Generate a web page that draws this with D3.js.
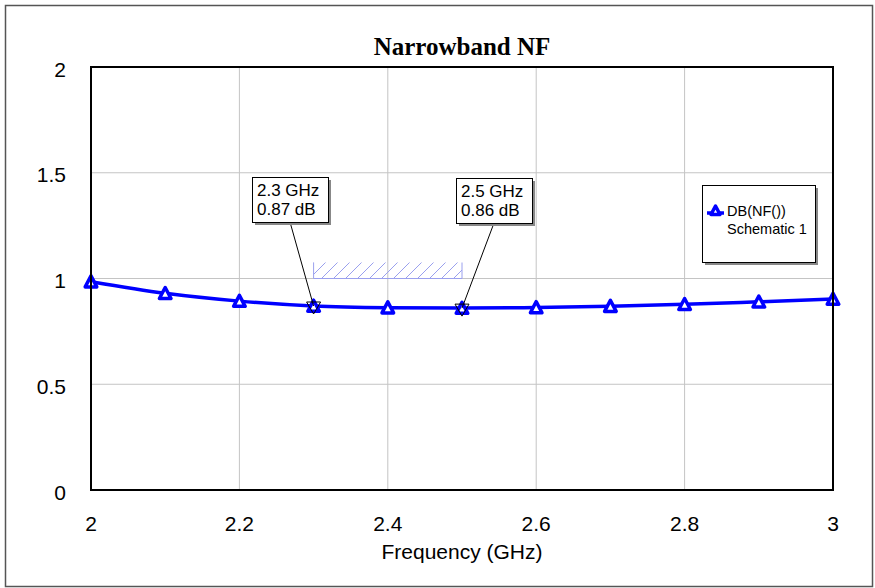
<!DOCTYPE html>
<html lang="en">
<head>
<meta charset="UTF-8">
<title>Narrowband NF</title>
<style>
    body, html { margin: 0; padding: 0; background: #fff; overflow: hidden; }
    svg { display: block; }
    .tick-label { font: 21px Arial, "Liberation Sans", sans-serif; fill: #000; }
    .grid { stroke: #c4c4c4; stroke-width: 1; }
    .box-text { font: 17px Arial, "Liberation Sans", sans-serif; fill: #000; }
    .legend-text { font: 14.5px Arial, "Liberation Sans", sans-serif; fill: #000; }
</style>
</head>
<body>
<script src="https://d3js.org/d3.v7.min.js"></script>
<script>
// data
const freqs = [2.0, 2.1, 2.2, 2.3, 2.4, 2.5, 2.6, 2.7, 2.8, 2.9, 3.0];
const nfDb = [0.985, 0.93, 0.893, 0.87, 0.862, 0.86, 0.863, 0.869, 0.878, 0.89, 0.903];
const xTicks = [2, 2.2, 2.4, 2.6, 2.8, 3];
const yTicks = [0, 0.5, 1, 1.5, 2];
const markers = [
    { f: 2.3, v: 0.87, label: ["2.3 GHz", "0.87 dB"], box: [252, 177] },
    { f: 2.5, v: 0.86, label: ["2.5 GHz", "0.86 dB"], box: [456, 178] }
];
const specLine = { f0: 2.3, f1: 2.5, v: 1.0 };

const width = 875, height = 588;
const plot = { left: 91, right: 833, top: 67, bottom: 490 };

const svg = d3.select("body").append("svg")
    .attr("width", width)
    .attr("height", height);

const x = d3.scaleLinear().domain([2, 3]).range([plot.left, plot.right]);
const y = d3.scaleLinear().domain([0, 2]).range([plot.bottom, plot.top]);

// outer frame
svg.append("rect")
    .attr("x", 5.5).attr("y", 5.5)
    .attr("width", 867).attr("height", 581)
    .attr("fill", "none")
    .attr("stroke", "#555")
    .attr("stroke-width", 1.5);

// title
svg.append("text")
    .attr("x", (plot.left + plot.right) / 2)
    .attr("y", 55)
    .attr("text-anchor", "middle")
    .style("font", "bold 25px 'Liberation Serif', 'Times New Roman', serif")
    .text("Narrowband NF");

// grid
svg.append("g").selectAll("line")
    .data(xTicks.filter(d => d > 2 && d < 3))
    .enter().append("line")
    .attr("class", "grid")
    .attr("x1", d => x(d)).attr("x2", d => x(d))
    .attr("y1", plot.top).attr("y2", plot.bottom);

svg.append("g").selectAll("line")
    .data(yTicks.filter(d => d > 0 && d < 2))
    .enter().append("line")
    .attr("class", "grid")
    .attr("x1", plot.left).attr("x2", plot.right)
    .attr("y1", d => y(d)).attr("y2", d => y(d));

// tick labels
svg.append("g").selectAll("text")
    .data(xTicks)
    .enter().append("text")
    .attr("class", "tick-label")
    .attr("x", d => x(d))
    .attr("y", 531)
    .attr("text-anchor", "middle")
    .text(d => d3.format("~g")(d));

svg.append("g").selectAll("text")
    .data(yTicks)
    .enter().append("text")
    .attr("class", "tick-label")
    .attr("x", 66)
    .attr("y", d => y(d) + 9.5)
    .attr("text-anchor", "end")
    .text(d => d3.format("~g")(d));

svg.append("text")
    .attr("class", "tick-label")
    .attr("x", (plot.left + plot.right) / 2)
    .attr("y", 559)
    .attr("text-anchor", "middle")
    .text("Frequency (GHz)");

// hatched spec region
const defs = svg.append("defs");
defs.append("pattern")
    .attr("id", "hatch")
    .attr("patternUnits", "userSpaceOnUse")
    .attr("width", 12).attr("height", 12)
    .append("path")
    .attr("d", "M-2,14 L14,-2 M-2,2 L2,-2 M10,14 L14,10")
    .attr("stroke", "#9aa0ee")
    .attr("stroke-width", 1);

const sx0 = x(specLine.f0), sx1 = x(specLine.f1), sy = y(specLine.v);
svg.append("rect")
    .attr("x", sx0).attr("y", sy - 16)
    .attr("width", sx1 - sx0).attr("height", 16)
    .attr("fill", "url(#hatch)");
svg.append("path")
    .attr("d", `M${sx0},${sy - 16} L${sx0},${sy} L${sx1},${sy} L${sx1},${sy - 16}`)
    .attr("fill", "none")
    .attr("stroke", "#9aa0ee")
    .attr("stroke-width", 1);

// curve
const pts = freqs.map((f, i) => ({ f: f, v: nfDb[i] }));
const line = d3.line()
    .x(d => x(d.f))
    .y(d => y(d.v))
    .curve(d3.curveMonotoneX);

svg.append("path")
    .datum(pts)
    .attr("d", line)
    .attr("fill", "none")
    .attr("stroke", "#0000ff")
    .attr("stroke-width", 3.5);

function triangle(g, cx, cy, s) {
    g.append("path")
        .attr("d", `M${cx},${cy - s} L${cx + s},${cy + s * 0.9} L${cx - s},${cy + s * 0.9} Z`)
        .attr("fill", "#fff")
        .attr("stroke", "#0000ff")
        .attr("stroke-width", 3.5)
        .attr("stroke-linejoin", "round");
}

const mk = svg.append("g");
pts.forEach(d => triangle(mk, x(d.f), y(d.v), 5.8));

// frame of plot
svg.append("rect")
    .attr("x", plot.left).attr("y", plot.top)
    .attr("width", plot.right - plot.left)
    .attr("height", plot.bottom - plot.top)
    .attr("fill", "none")
    .attr("stroke", "#000")
    .attr("stroke-width", 2);

// marker callouts
markers.forEach(m => {
    const px = x(m.f), py = y(m.v);
    const bw = 76, bh = 45;
    const bx = m.box[0], by = m.box[1];
    svg.append("line")
        .attr("x1", bx + bw * 0.5).attr("y1", by + bh)
        .attr("x2", px).attr("y2", py)
        .attr("stroke", "#000").attr("stroke-width", 1);
    svg.append("path")
        .attr("d", `M${px - 7},${py - 4} L${px + 7},${py - 4} L${px},${py + 8} Z`)
        .attr("fill", "none")
        .attr("stroke", "#000")
        .attr("stroke-width", 1);
    svg.append("rect")
        .attr("x", bx + 3).attr("y", by + 3)
        .attr("width", bw).attr("height", bh)
        .attr("fill", "#888");
    svg.append("rect")
        .attr("x", bx + 0.5).attr("y", by + 0.5)
        .attr("width", bw).attr("height", bh)
        .attr("fill", "#fff")
        .attr("stroke", "#000")
        .attr("stroke-width", 1);
    m.label.forEach((t, i) => {
        svg.append("text")
            .attr("class", "box-text")
            .attr("x", bx + 5)
            .attr("y", by + 19 + i * 19)
            .text(t);
    });
});

// legend
const lg = svg.append("g");
lg.append("rect")
    .attr("x", 705).attr("y", 188)
    .attr("width", 113).attr("height", 77)
    .attr("fill", "#888");
lg.append("rect")
    .attr("x", 702.5).attr("y", 185.5)
    .attr("width", 113).attr("height", 77)
    .attr("fill", "#fff")
    .attr("stroke", "#000")
    .attr("stroke-width", 1);
lg.append("line")
    .attr("x1", 707).attr("x2", 724)
    .attr("y1", 213).attr("y2", 213)
    .attr("stroke", "#0000ff").attr("stroke-width", 3.5);
triangle(lg, 715.5, 210.5, 4.5);
lg.append("text").attr("class", "legend-text")
    .attr("x", 727).attr("y", 216).text("DB(NF())");
lg.append("text").attr("class", "legend-text")
    .attr("x", 727).attr("y", 234).text("Schematic 1");
</script>
</body>
</html>
